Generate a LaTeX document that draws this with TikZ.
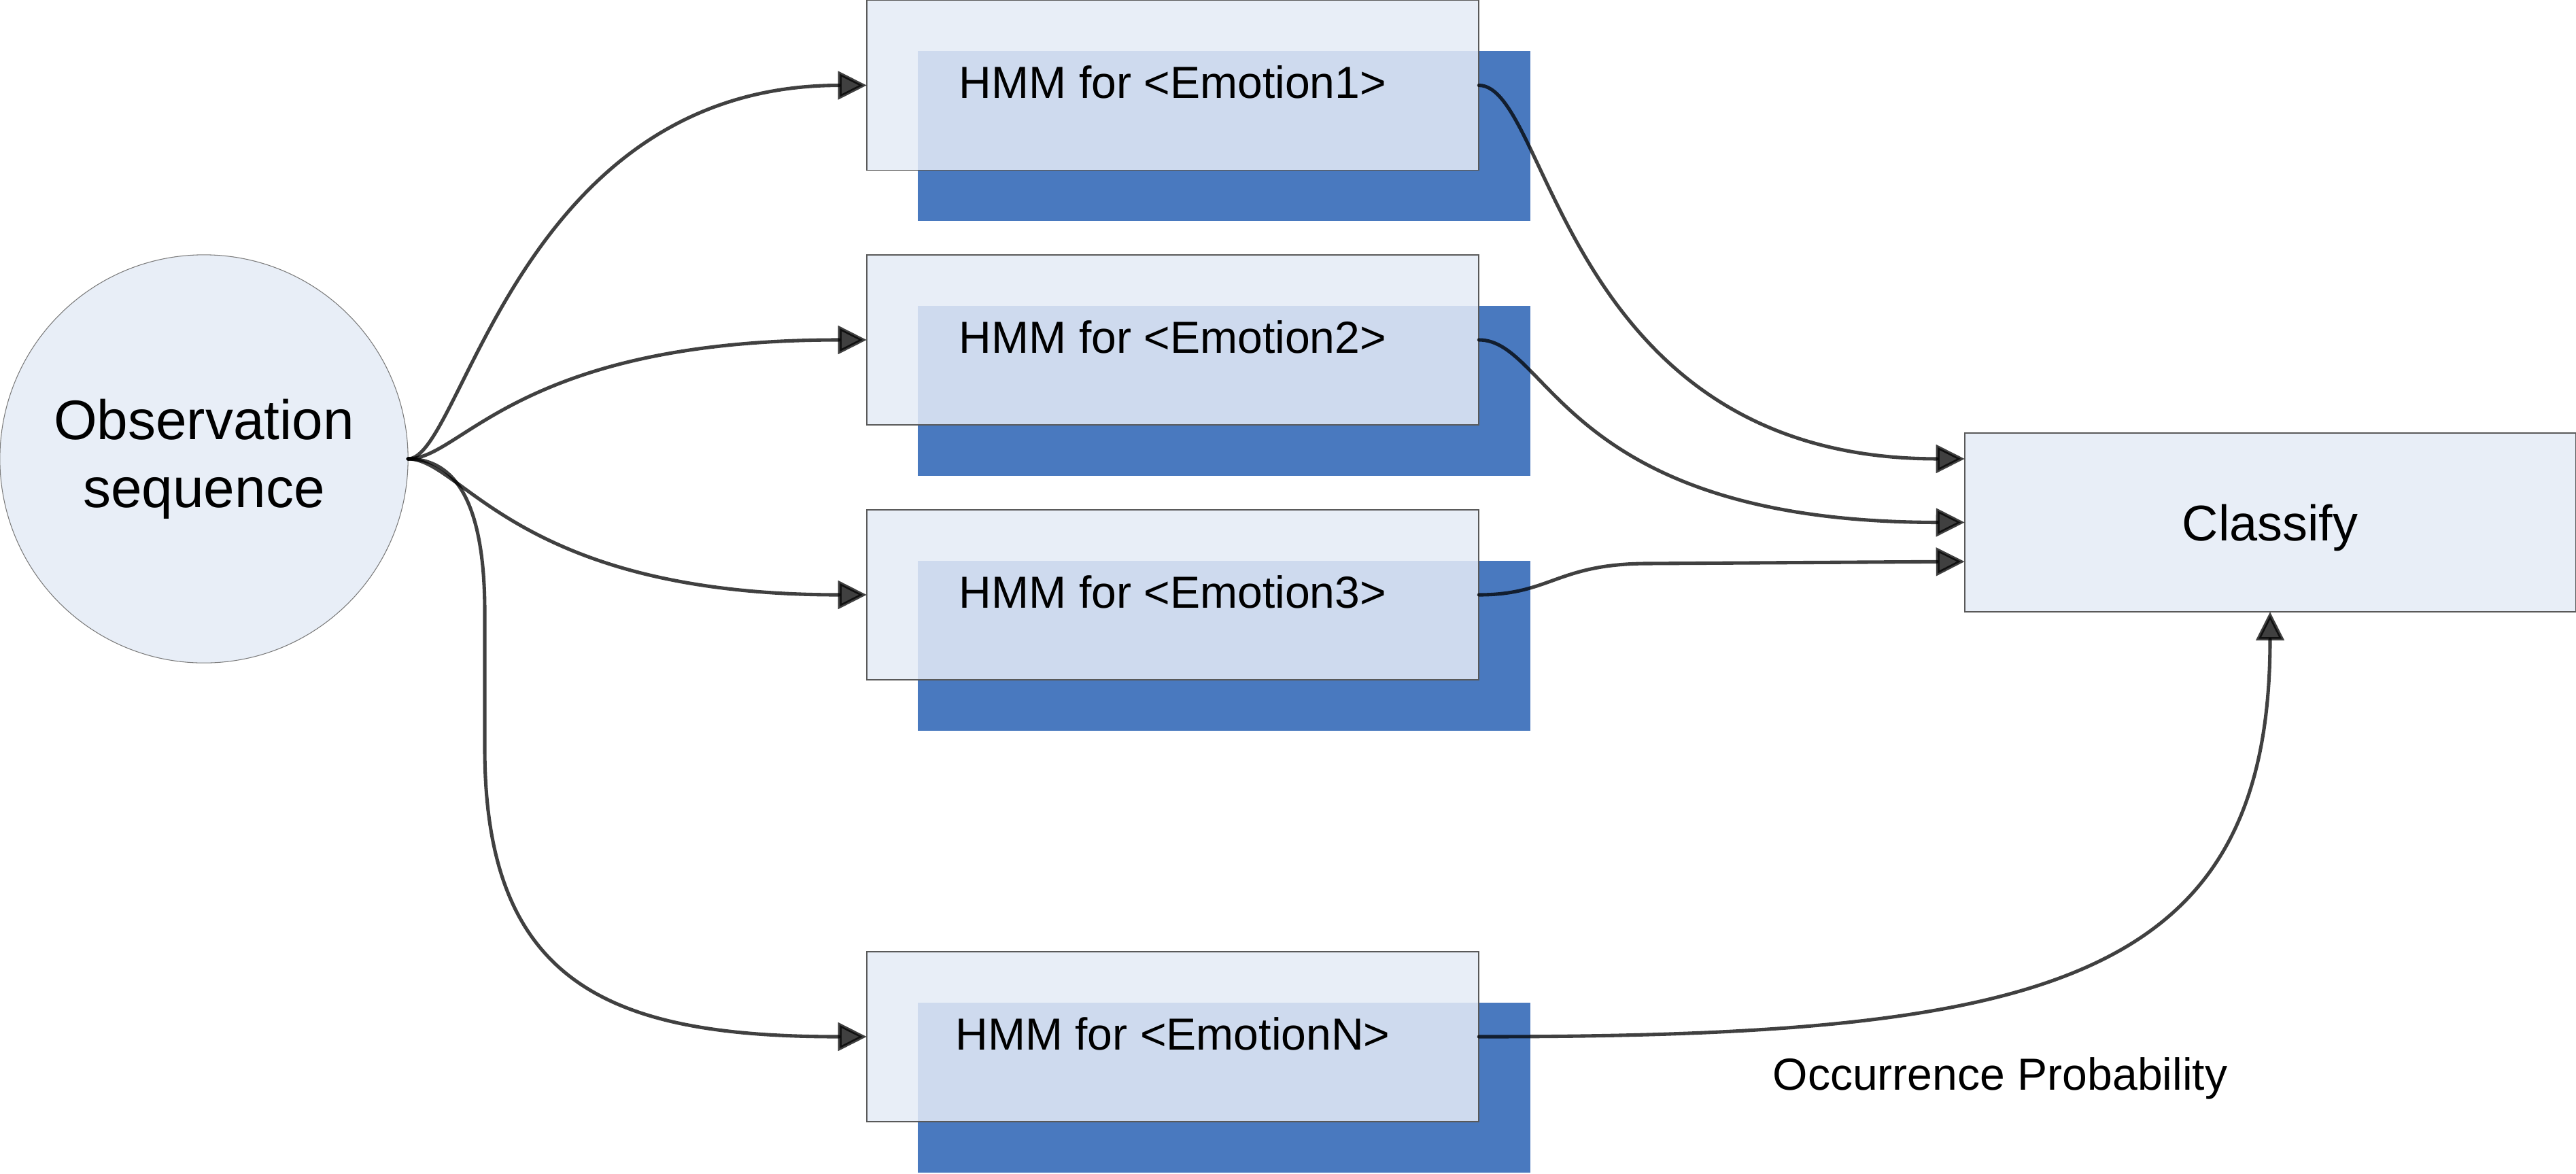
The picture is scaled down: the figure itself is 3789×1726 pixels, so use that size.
\documentclass[tikz,border=0pt]{standalone}
\usepackage{fontspec}
\setmainfont{Liberation Sans}
\usetikzlibrary{arrows.meta}
\definecolor{boxfill}{RGB}{228,235,246}
\definecolor{paleblue}{RGB}{232,238,247}
\definecolor{shadowblue}{RGB}{73,121,191}
\definecolor{edgegray}{RGB}{89,89,89}
\begin{document}
\begin{tikzpicture}[x=0.01cm,y=-0.01cm,
  shadowbox/.style={fill=shadowblue, minimum width=9cm, minimum height=2.5cm, inner sep=0pt, outer sep=0pt},
  hmmbox/.style={draw=edgegray, line width=0.45pt, fill=boxfill, fill opacity=0.86, text opacity=1,
    minimum width=9cm, minimum height=2.5cm, inner sep=0pt, outer sep=0pt, text depth=0.09cm,
    font=\fontsize{18.8pt}{22pt}\selectfont},
  obsnode/.style={circle, draw=edgegray!80, line width=0.3pt, fill=paleblue, minimum size=6cm,
    inner sep=0pt, outer sep=0pt, align=center, font=\fontsize{23.3pt}{28.5pt}\selectfont},
  clsbox/.style={draw=edgegray, line width=0.45pt, fill=paleblue, minimum width=8.98cm,
    minimum height=2.63cm, inner sep=0pt, outer sep=0pt, text depth=0pt, font=\fontsize{21pt}{25pt}\selectfont},
  lbl/.style={inner sep=0pt, anchor=base, font=\fontsize{18.8pt}{22pt}\selectfont},
  conn/.style={draw=black, opacity=0.75, line width=1.45pt, line cap=round,
    -{Triangle[length=0.42cm,width=0.41cm]}}
]
\useasboundingbox (0,0) rectangle (3789,1726);

% observation circle
\node[obsnode] (obs) at (300,675) {Observation\\sequence};

% shadow boxes
\node[shadowbox] (s1) at (1800.5,200) {};
\node[shadowbox] (s2) at (1800.5,575) {};
\node[shadowbox] (s3) at (1800.5,950) {};
\node[shadowbox] (s4) at (1800.5,1600) {};

% HMM boxes
\node[hmmbox] (h1) at (1725,125.5) {HMM for <Emotion1>};
\node[hmmbox] (h2) at (1725,500) {HMM for <Emotion2>};
\node[hmmbox] (h3) at (1725,875) {HMM for <Emotion3>};
\node[hmmbox] (h4) at (1725,1525) {HMM for <EmotionN>};

% classify
\node[clsbox] (cls) at (3339,768.5) {Classify};

% label
\node[lbl] (occ) at (2942,1603) {Occurrence Probability};

% input connectors
\draw[conn] (obs.east) .. controls (680,675) and (760,126) .. (h1.west);
\draw[conn] (obs.east) .. controls (680,675) and (760,500) .. (h2.west);
\draw[conn] (obs.east) .. controls (680,675) and (760,875) .. (h3.west);
\draw[conn] (obs.east) .. controls (680,675) and (713,760) .. (713,900)
  -- (713,1100) .. controls (713,1450) and (900,1525) .. (h4.west);

% output connectors
\draw[conn] (h1.east) .. controls (2280,126) and (2300,675) .. ([yshift=0.935cm]cls.west);
\draw[conn] (h2.east) .. controls (2280,500) and (2300,768) .. (cls.west);
\draw[conn] (h3.east) .. controls (2280,875) and (2290,830) .. (2420,829)
  -- ([yshift=-0.575cm]cls.west);
\draw[conn] (h4.east) .. controls (3000,1525) and (3339,1450) .. (cls.south);
\end{tikzpicture}
\end{document}
